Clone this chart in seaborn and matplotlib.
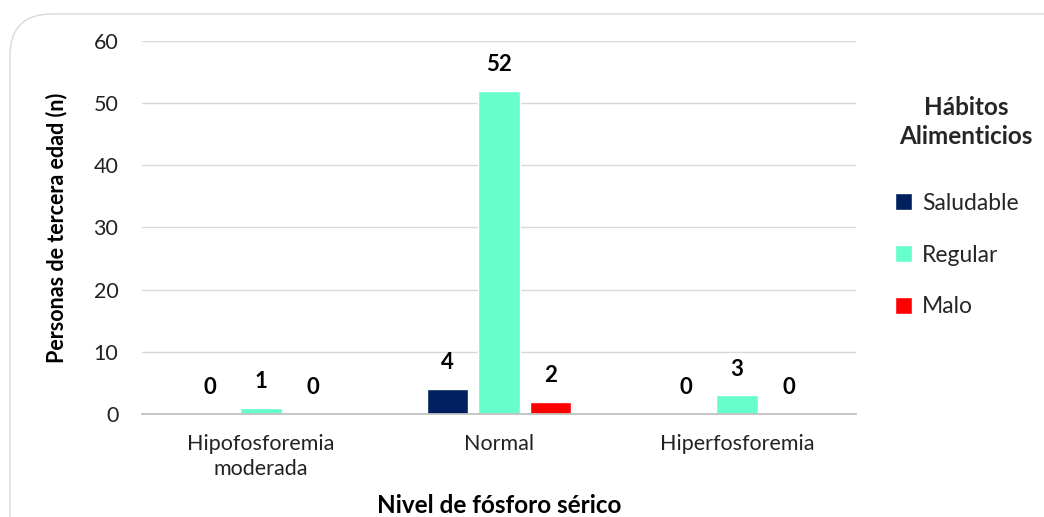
import matplotlib
matplotlib.use("Agg")
import matplotlib.pyplot as plt
from matplotlib.patches import FancyBboxPatch, Patch
import seaborn as sns
import pandas as pd

categories = ["Hipofosforemia\nmoderada", "Normal", "Hiperfosforemia"]
groups = ["Saludable", "Regular", "Malo"]
saludable = [0, 4, 0]
regular = [1, 52, 3]
malo = [0, 2, 0]
colors = ["#002060", "#66FFCC", "#FF0000"]

rows = []
for g, vals in zip(groups, [saludable, regular, malo]):
    for c, v in zip(categories, vals):
        rows.append({"nivel": c, "habito": g, "n": v})
df = pd.DataFrame(rows)

sns.set_theme(style="white")
plt.rcParams["font.family"] = ["Lato", "DejaVu Sans"]

fig = plt.figure(figsize=(10.44, 5.17), dpi=100)
ax = fig.add_axes([0.136, 0.199, 0.684, 0.722])

# rounded frame around the chart
frame = FancyBboxPatch((10 / 1044, -0.2), 1.2, (517 - 14) / 517 + 0.2,
                       boxstyle="round,pad=0,rounding_size=0.04",
                       transform=fig.transFigure, facecolor="none",
                       edgecolor="#D9D9D9", linewidth=1.0, zorder=-10,
                       mutation_aspect=1044 / 517)
fig.patches.append(frame)

sns.barplot(data=df, x="nivel", y="n", hue="habito", hue_order=groups,
            order=categories, palette=colors, width=0.65, gap=0.19,
            saturation=1, ax=ax, legend=False, errorbar=None)

for container in ax.containers:
    for bar in container:
        h = bar.get_height()
        ax.annotate(f"{int(round(h))}", (bar.get_x() + bar.get_width() / 2, h),
                    xytext=(0, 19), textcoords="offset points",
                    ha="center", va="center", fontsize=16, fontweight="bold",
                    color="#000000")

ax.set_xlim(-0.5, 2.5)
ax.set_ylim(0, 60)
ax.set_yticks(range(0, 61, 10))
ax.yaxis.grid(True, color="#D9D9D9", linewidth=1)
ax.set_axisbelow(True)
for s in ["left", "right", "top"]:
    ax.spines[s].set_visible(False)
ax.spines["bottom"].set_color("#BFBFBF")
ax.tick_params(axis="both", length=0, colors="#222222")
ax.tick_params(axis="y", pad=17, labelsize=15.5)
ax.tick_params(axis="x", pad=14, labelsize=15.5)
for t in ax.get_xticklabels():
    t.set_linespacing(1.35)

ax.set_xlabel("Nivel de fósforo sérico", fontsize=17.5, fontweight="bold",
              color="#000000", labelpad=11)
ax.set_ylabel("Personas de tercera edad (n)", fontsize=15.5, fontweight="bold",
              color="#000000", labelpad=19)

handles = [Patch(facecolor=c, label=g) for c, g in zip(colors, groups)]
leg = fig.legend(handles=handles, loc="center left",
                 bbox_to_anchor=(874 / 1044, 1 - 255 / 517),
                 frameon=False, fontsize=16.5, handlelength=0.75,
                 handleheight=0.75, handletextpad=0.45, labelspacing=1.35)
fig.text(966 / 1044, 1 - 122 / 517, "Hábitos\nAlimenticios", ha="center",
         va="center", fontsize=17.5, fontweight="bold", linespacing=1.3)

fig.savefig("out.png", dpi=100)
